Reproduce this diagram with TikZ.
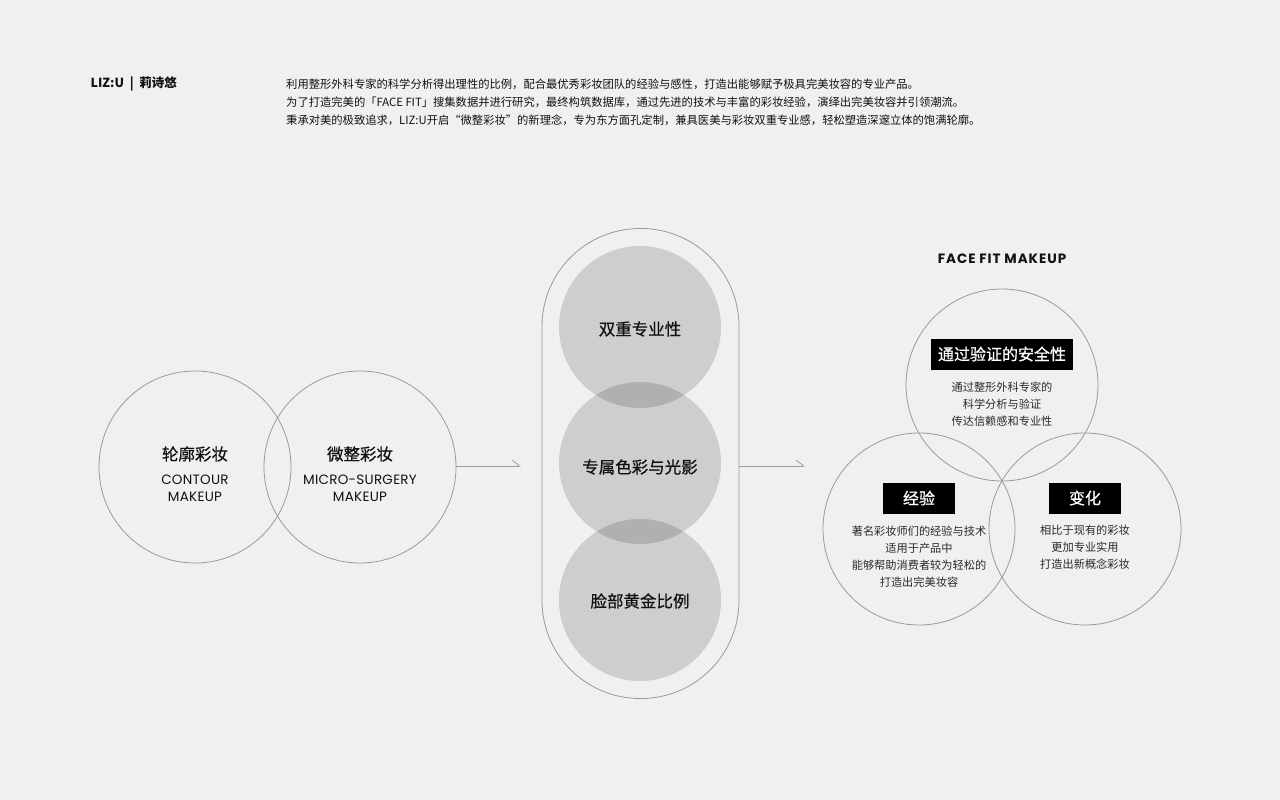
\documentclass[tikz,border=0pt]{standalone}
\usepackage{fontspec}
\setmainfont{Noto Sans CJK SC}
\newfontfamily\cnmed{Noto Sans CJK SC}[FakeBold=0.6]
\newfontfamily\geo{Poppins}[LetterSpace=2]
\newfontfamily\geowide{Poppins}[LetterSpace=7]
\usetikzlibrary{arrows.meta}

\definecolor{bgcol}{HTML}{F0F0F0}
\definecolor{linecol}{HTML}{9A9A9A}
\definecolor{inkcol}{HTML}{111111}
\definecolor{notecol}{HTML}{2A2A2A}

\newcommand{\fsz}[2]{\fontsize{#1}{#2}\selectfont}

\begin{document}
\begin{tikzpicture}[x=1pt, y=-1pt,
    ring/.style={circle, draw=linecol, line width=0.8pt, minimum size=192pt, inner sep=0pt},
    bub/.style={circle, fill=black, fill opacity=0.14, minimum size=162pt, inner sep=0pt},
    tag/.style={fill=black, text=white, minimum height=31pt, inner sep=0pt, font=\cnmed\fsz{16}{18}},
    note/.style={align=center, text=notecol, font=\fsz{11.2}{17}},
    head/.style={text=inkcol, font=\cnmed\fsz{16.5}{18}},
    harp/.style={draw=linecol, line width=0.8pt, -{Straight Barb[left, length=8pt, width=12pt]}}]

    % background and frame of the page
    \fill[bgcol] (0,0) rectangle (1280,800);

    % header
    \node[anchor=west, text=inkcol, font=\bfseries\fsz{12.5}{14}] (brand) at (87,84) {LIZ:U\ \ |\ \ 莉诗悠};
    \node[anchor=north west, text=inkcol, align=left, font=\fsz{11.3}{18}, inner sep=0pt] (intro) at (286,79)
        {利用整形外科专家的科学分析得出理性的比例，配合最优秀彩妆团队的经验与感性，打造出能够赋予极具完美妆容的专业产品。\\
         为了打造完美的「FACE FIT」搜集数据并进行研究，最终构筑数据库，通过先进的技术与丰富的彩妆经验，演绎出完美妆容并引领潮流。\\
         秉承对美的极致追求，LIZ:U开启“微整彩妆”的新理念，专为东方面孔定制，兼具医美与彩妆双重专业感，轻松塑造深邃立体的饱满轮廓。};

    % left pair of circles
    \node[ring] (ct) at (195,467) {};
    \node[ring] (mu) at (360,467) {};
    \node[head] (ctcn) at (195,454) {轮廓彩妆};
    \node[align=center, text=inkcol, font=\geo\fsz{13.5}{17}] (cten) at (195,488) {CONTOUR\\MAKEUP};
    \node[head] (mucn) at (360,454) {微整彩妆};
    \node[align=center, text=inkcol, font=\geo\fsz{13.5}{17}] (muen) at (360,488) {MICRO-SURGERY\\MAKEUP};

    % middle capsule
    \node[draw=linecol, line width=0.8pt, rounded corners=98pt, minimum width=197pt, minimum height=470pt] (pill) at (640.5,463.5) {};
    \node[bub] (b1) at (640,327) {};
    \node[bub] (b2) at (640,463) {};
    \node[bub] (b3) at (640,600) {};
    \node[head] (t1) at (640,329) {双重专业性};
    \node[head] (t2) at (640,467) {专属色彩与光影};
    \node[head] (t3) at (640,601) {脸部黄金比例};

    % arrows
    \coordinate (tip1) at (521,466);
    \coordinate (tip2) at (805,466);
    \draw[harp] (mu.east |- tip1) -- (tip1);
    \draw[harp] (pill.east |- tip2) -- (tip2);

    % right venn
    \node[text=inkcol, font=\bfseries\geowide\fsz{13.5}{15}] (title) at (1002,259) {FACE FIT MAKEUP};
    \node[ring] (safe) at (1002,385) {};
    \node[ring] (exp) at (919,529) {};
    \node[ring] (chg) at (1085,529) {};

    \node[tag, minimum width=142pt] (safetag) at (1002,354) {通过验证的安全性};
    \node[tag, minimum width=72pt] (exptag) at (919,498) {经验};
    \node[tag, minimum width=72pt] (chgtag) at (1085,498) {变化};

    \node[note, anchor=north] (safenote) at (1002,378) {通过整形外科专家的\\科学分析与验证\\传达信赖感和专业性};
    \node[note, anchor=north] (expnote) at (919,522) {著名彩妆师们的经验与技术\\适用于产品中\\能够帮助消费者较为轻松的\\打造出完美妆容};
    \node[note, anchor=north] (chgnote) at (1085,522) {相比于现有的彩妆\\更加专业实用\\打造出新概念彩妆};

\end{tikzpicture}
\end{document}
